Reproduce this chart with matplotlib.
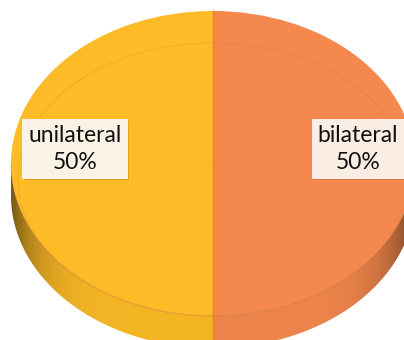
import numpy as np
import matplotlib
matplotlib.use("Agg")
import matplotlib.pyplot as plt
from matplotlib.patches import Polygon, Ellipse
from matplotlib import patheffects

labels = ["bilateral", "unilateral"]
values = [50, 50]
colors = ["#F4884D", "#FCBB27"]
box_colors = ["#FAEDE4", "#FAF3E5"]

plt.rcParams["font.family"] = ["Lato", "DejaVu Sans"]

fig = plt.figure(figsize=(4.04, 3.40), dpi=100)
ax = fig.add_axes([0, 0, 1, 1])

# top face of the pie, drawn first so the wedge angles are known
wedges, _ = ax.pie(values, colors=colors, startangle=90, counterclock=False,
                   radius=1, wedgeprops=dict(linewidth=0))
for w in wedges:
    w.set_zorder(3)

ax.set_aspect("auto")
ax.set_xlim(-213 / 202, 191 / 202)
ax.set_ylim((163.5 - 340) / 152.5, 163.5 / 152.5)
ax.axis("off")

depth = 0.21  # thickness of the slab in y units

# side walls with shading that darkens towards the rim
for w, c in zip(wedges, colors):
    t = np.radians(np.linspace(w.theta1, w.theta2, 400))
    t = t[np.sin(t) <= 1e-9]
    if len(t) < 2:
        continue
    top = np.column_stack([np.cos(t), np.sin(t)])
    bot = np.column_stack([np.cos(t[::-1]), np.sin(t[::-1]) - depth])
    poly = Polygon(np.vstack([top, bot]), closed=True, facecolor="none",
                   edgecolor="none", transform=ax.transData)
    ax.add_patch(poly)

    xs = np.linspace(-1.06, 1.06, 500)
    shade = 0.97 - 0.5 * np.abs(xs) ** 7
    rgb = np.array(matplotlib.colors.to_rgb(c))
    img = np.tile((rgb[None, :] * shade[:, None])[None, :, :], (2, 1, 1))
    im = ax.imshow(img, extent=(-1.06, 1.06, -1.3, 0.05), aspect="auto",
                   interpolation="bilinear", zorder=2)
    im.set_clip_path(poly)

    # faint rim where the top face meets the wall
    ax.plot(top[:, 0], top[:, 1], color="#B0500A", alpha=0.25, lw=0.8, zorder=4)

# dividing lines between the slices
for w in wedges:
    for a in (w.theta1, w.theta2):
        r = np.radians(a)
        ax.plot([0, np.cos(r)], [0, np.sin(r)], color="#EE8420", lw=0.9, zorder=4)
        ax.plot([np.cos(r), np.cos(r)], [np.sin(r), np.sin(r) - depth],
                color="#EE8420", lw=0.9, zorder=2.5)

# faint bevel ring on the top face
ring = Ellipse((0, (163.5 - 179.5) / 152.5), 2 * 195 / 202, 2 * 136.5 / 152.5,
               facecolor="none", edgecolor="#C86A10", linewidth=0.8, alpha=0.15, zorder=4)
ax.add_patch(ring)

# data labels
total = sum(values)
for w, name, v, bc in zip(wedges, labels, values, box_colors):
    mid = np.radians((w.theta1 + w.theta2) / 2)
    x = 0.70 * np.cos(mid) + 0.017
    y = 0.70 * np.sin(mid) + 0.095
    txt = ax.text(x, y, f"{name}\n{v / total * 100:.0f}%", ha="center", va="center",
                  fontsize=16.5, color="#111111", linespacing=1.32, zorder=6,
                  bbox=dict(boxstyle="square,pad=0.26", facecolor=bc, edgecolor="none"))
    txt.get_bbox_patch().set_path_effects([
        patheffects.withSimplePatchShadow(offset=(1, -1), shadow_rgbFace="#000000", alpha=0.12),
        patheffects.Normal()])

fig.savefig("out.png", dpi=100)
